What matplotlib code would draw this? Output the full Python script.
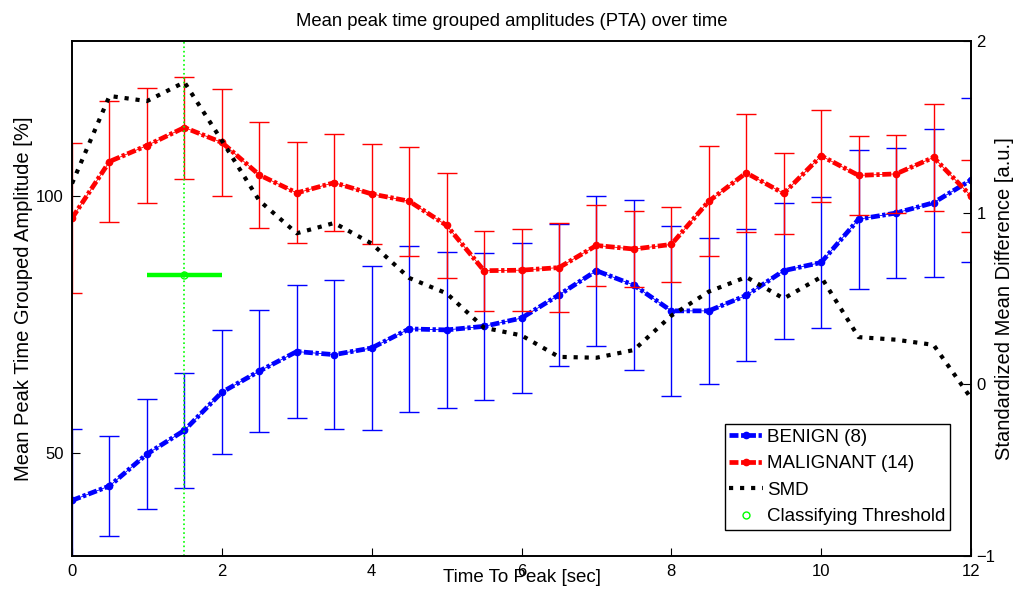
import matplotlib.pyplot as plt

plt.rcParams['font.family'] = ['Liberation Sans', 'DejaVu Sans']

# time to peak [sec]
t = [0, 0.5, 1, 1.5, 2, 2.5, 3, 3.5, 4, 4.5, 5, 5.5, 6, 6.5, 7, 7.5, 8, 8.5, 9, 9.5, 10, 10.5, 11, 11.5, 12]

benign_mean = [40.8, 43.6, 49.8, 54.4, 61.8, 65.9, 69.7, 69.1, 70.4, 74.1, 73.9, 74.6, 76.2,
               80.7, 85.4, 82.6, 77.6, 77.6, 80.6, 85.4, 87.0, 95.4, 96.6, 98.6, 103.0]
benign_err = [13.8, 9.7, 10.6, 11.1, 12.0, 11.8, 12.9, 14.5, 16.0, 16.1, 15.2, 14.3, 14.6,
              13.8, 14.6, 16.5, 16.5, 14.2, 12.8, 13.2, 12.8, 13.5, 12.7, 14.4, 15.9]

malignant_mean = [95.6, 106.6, 109.7, 113.2, 110.3, 104.0, 100.5, 102.5, 100.3, 98.9, 94.2, 85.4, 85.5,
                  86.0, 90.3, 89.6, 90.5, 98.9, 104.4, 100.4, 107.7, 103.9, 104.2, 107.4, 99.9]
malignant_err = [14.5, 11.8, 11.1, 9.9, 10.4, 10.3, 9.8, 9.4, 9.7, 10.6, 10.2, 7.8, 8.0,
                 8.6, 7.8, 7.3, 7.3, 10.7, 11.4, 7.9, 9.0, 7.6, 7.5, 10.4, 7.0]

smd = [1.17, 1.68, 1.65, 1.76, 1.42, 1.07, 0.88, 0.94, 0.82, 0.62, 0.53, 0.33, 0.285,
       0.16, 0.155, 0.20, 0.40, 0.54, 0.625, 0.50, 0.625, 0.275, 0.26, 0.23, -0.08]

thr_t = 1.5
thr_amp = 84.6
thr_halfwidth = 0.5

dashdot = (0, (1.9, 0.55, 0.7, 0.55))

fig = plt.figure(figsize=(10.16, 5.90), dpi=100)
ax = fig.add_axes([0.0709, 0.0576, 0.8848, 0.8729])

# error bars first, then the mean curves
ax.errorbar(t, benign_mean, yerr=benign_err, fmt='none', ecolor='b', elinewidth=1, capsize=7, capthick=1)
ax.plot(t, benign_mean, '-', color='b', lw=0.6)
l1, = ax.plot(t, benign_mean, ls=dashdot, color='b', lw=3.4, marker='.', ms=9, label='BENIGN (8)')

ax.errorbar(t, malignant_mean, yerr=malignant_err, fmt='none', ecolor='r', elinewidth=1, capsize=7, capthick=1)
ax.plot(t, malignant_mean, '-', color='r', lw=0.6)
l2, = ax.plot(t, malignant_mean, ls=dashdot, color='r', lw=3.4, marker='.', ms=9, label='MALIGNANT (14)')

# classifying threshold
ax.axvline(thr_t, color=(0, 1, 0), ls=':', lw=1.2)
ax.hlines(thr_amp, thr_t - thr_halfwidth, thr_t + thr_halfwidth, color=(0, 1, 0), lw=3.2)
l4, = ax.plot([thr_t], [thr_amp], 'o', mfc='none', mec=(0, 1, 0), ms=5, ls='none',
              label='Classifying Threshold')

ax.set_xlim(0, 12)
ax.set_ylim(30, 130)
ax.set_xticks([0, 2, 4, 6, 8, 10, 12])
ax.set_yticks([50, 100])
ax.tick_params(direction='in', length=6, labelsize=12, top=False, right=False, pad=6)
ax.set_ylabel('Mean Peak Time Grouped Amplitude [%]', fontsize=14.5)
ax.yaxis.set_label_coords(-0.043, 0.5)
ax.set_xlabel('Time To Peak [sec]', fontsize=13.5)
ax.xaxis.set_label_coords(0.5, -0.026)
ax.set_title('Mean peak time grouped amplitudes (PTA) over time', fontsize=13.3, pad=11, x=0.489)

ax2 = ax.twinx()
l3, = ax2.plot(t, smd, ':', color='k', lw=3, label='SMD')
ax2.set_ylim(-1, 2)
ax2.set_yticks([-1, 0, 1, 2])
ax2.tick_params(direction='in', length=6, labelsize=12, pad=4)
ax2.set_ylabel('Standardized Mean Difference [a.u.]', fontsize=14.5)
ax2.yaxis.set_label_coords(1.027, 0.5)

for a in (ax, ax2):
    for s in a.spines.values():
        s.set_linewidth(1.2)

leg = ax2.legend(handles=[l1, l2, l3, l4], loc='lower right', bbox_to_anchor=(0.9766, 0.0505),
                 borderaxespad=0, fontsize=13.5, fancybox=False, framealpha=1, edgecolor='k',
                 handlelength=1.8, handletextpad=0.2, borderpad=0.25, labelspacing=0.5)
leg.get_frame().set_linewidth(1)

fig.savefig('out.png', dpi=100)
